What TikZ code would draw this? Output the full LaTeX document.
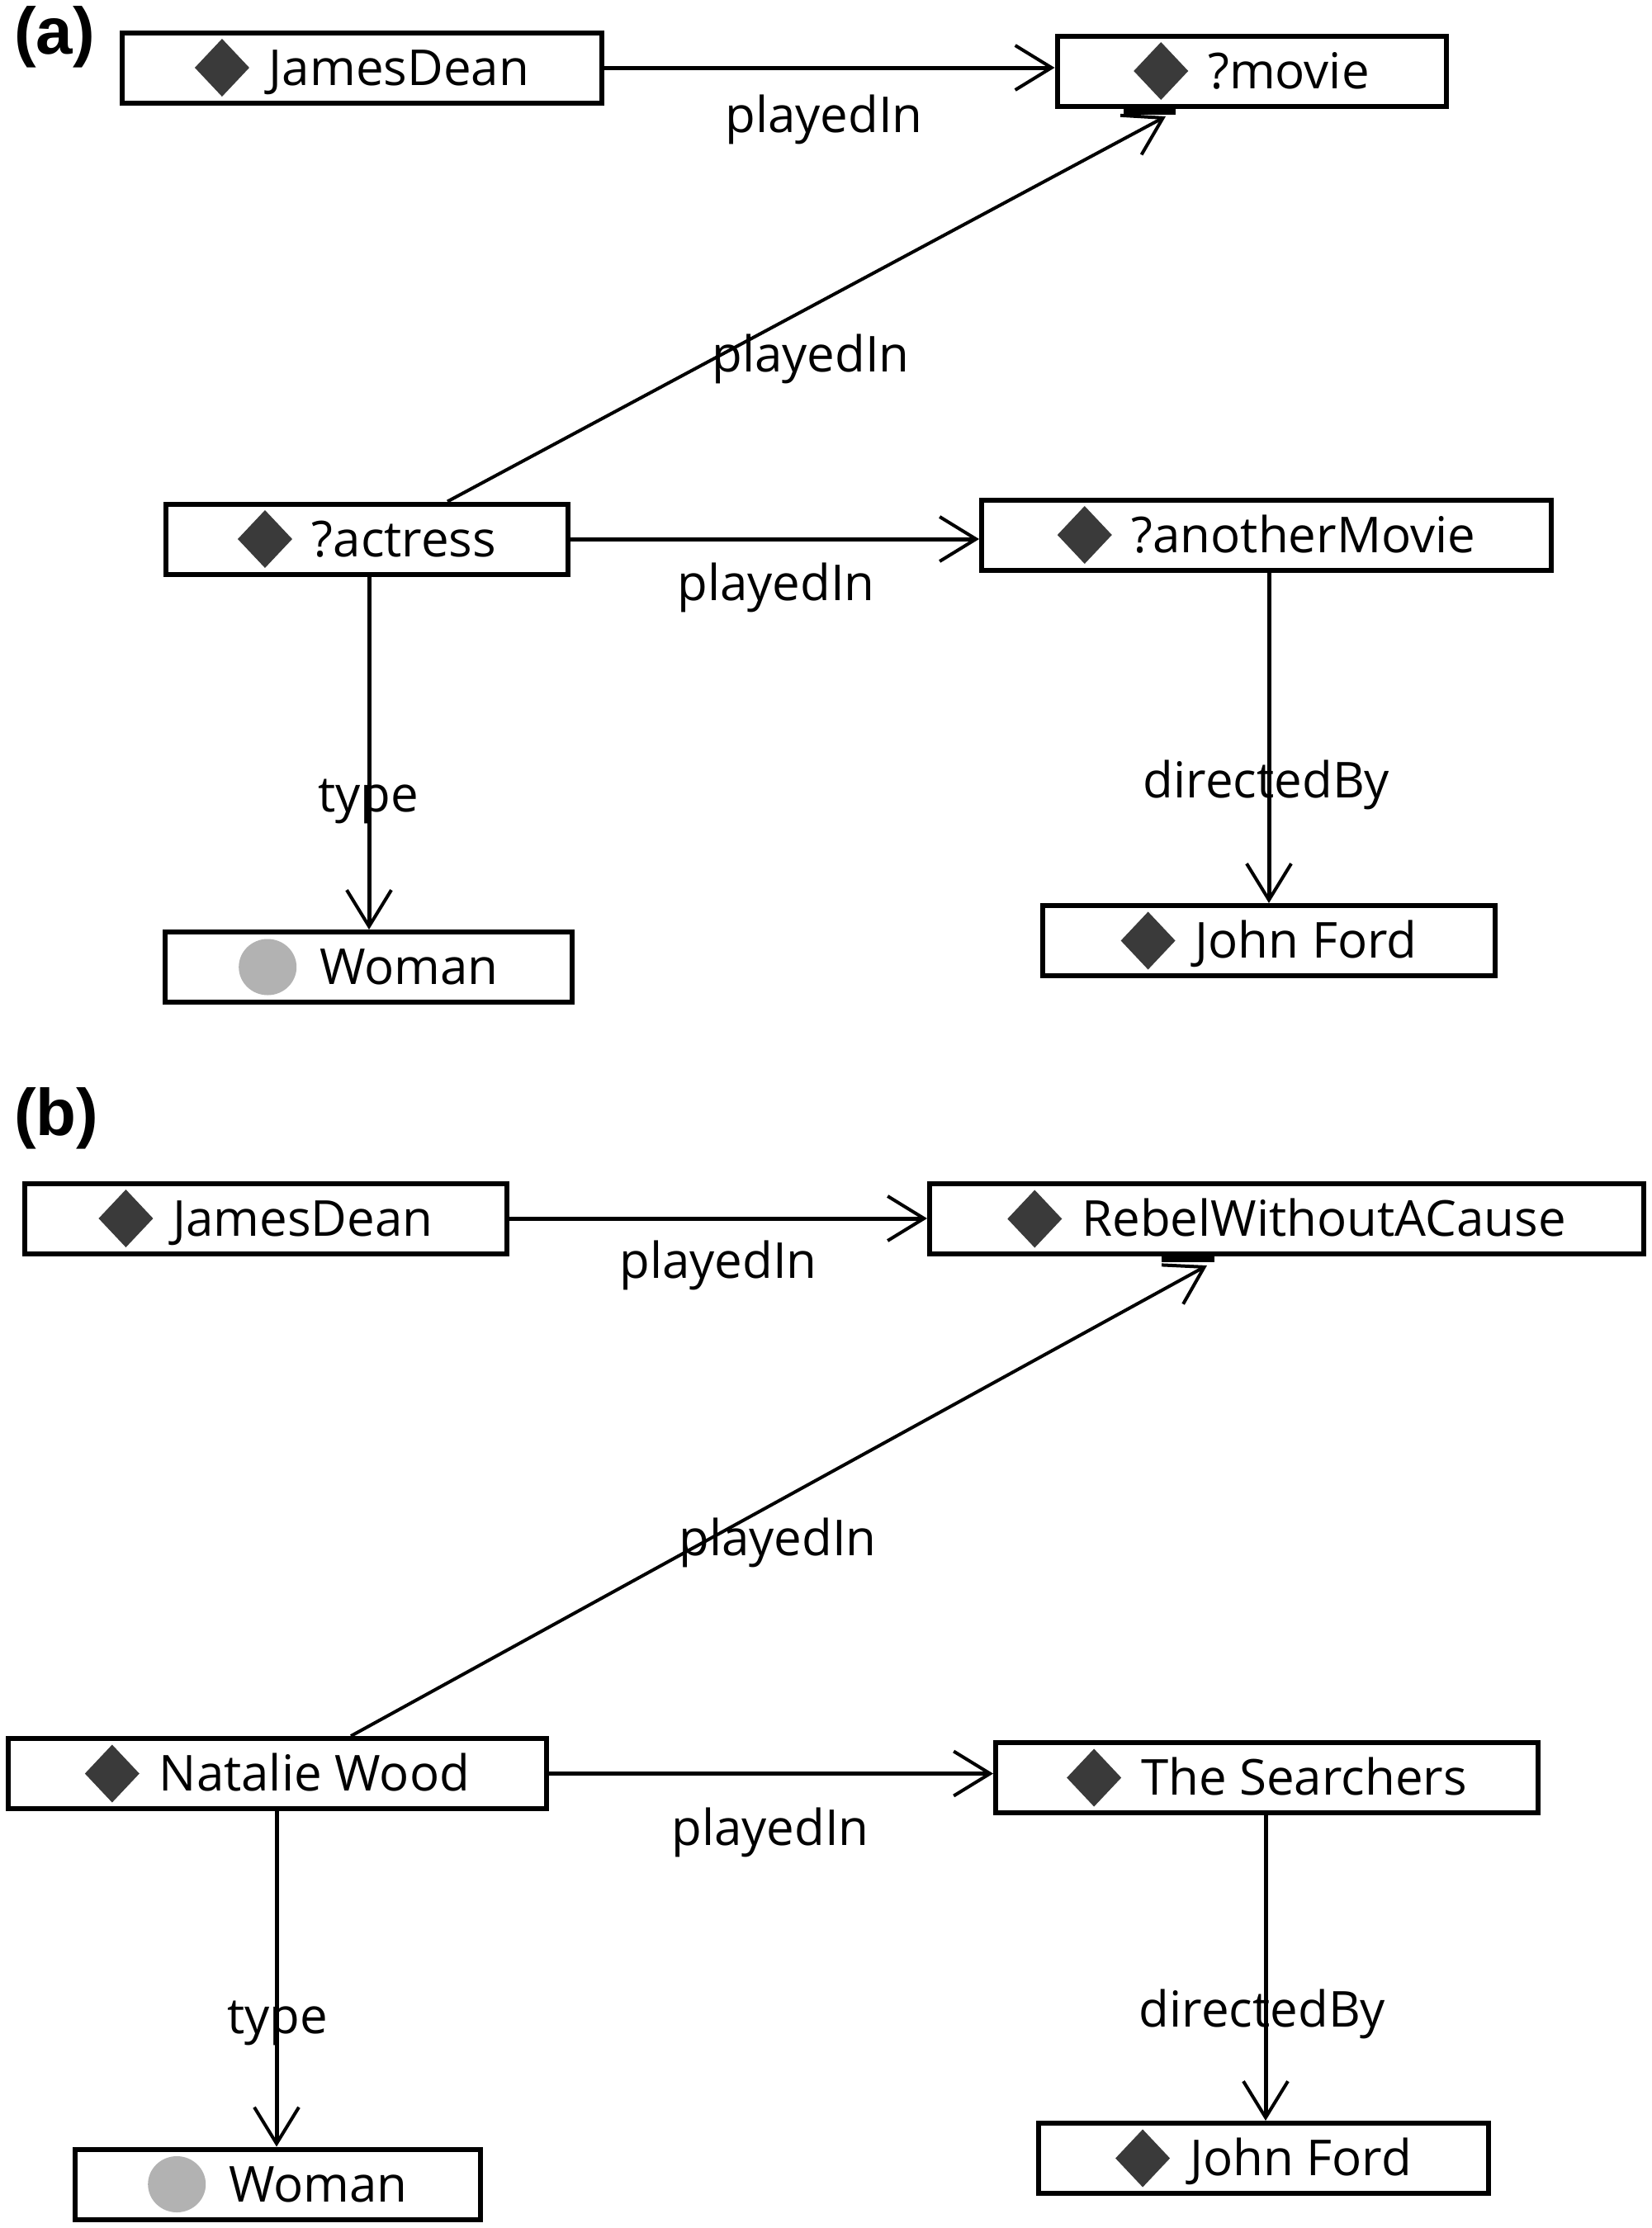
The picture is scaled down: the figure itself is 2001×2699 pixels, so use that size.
\documentclass[tikz,border=0pt]{standalone}
\usepackage{fontspec}
\setmainfont{Open Sans}
\newfontfamily\panelfont{Liberation Sans}
\usetikzlibrary{arrows.meta}
\definecolor{dmdgray}{HTML}{3A3A3A}
\definecolor{clsgray}{HTML}{B2B2B2}
\newcommand{\instIcon}{\tikz[baseline=-21pt]\fill[dmdgray] (-33pt,0pt)--(0pt,35pt)--(33pt,0pt)--(0pt,-35pt)--cycle;}
\newcommand{\clsIcon}{\tikz[baseline=-21pt]\fill[clsgray] (0pt,0pt) ellipse [x radius=35pt, y radius=34pt];}
\tikzset{
 ent/.style={draw, line width=6pt, minimum height=85pt, inner sep=0pt, font={\fontsize{60}{72}\selectfont}},
 elabel/.style={font={\fontsize{60}{72}\selectfont}, inner sep=0pt, anchor=base},
 rel/.style={line width=5pt, -{Straight Barb[length=44pt,width=54pt,line width=4pt]}},
 reldiag/.style={rel, line width=4pt},
 panel/.style={font={\panelfont\bfseries\fontsize{80}{96}\selectfont}, inner sep=0pt, anchor=base west},
}
\begin{document}
\begin{tikzpicture}[x=1pt,y=-1pt]
\fill[white] (0,0) rectangle (2001,2699);
\useasboundingbox (0,0) rectangle (2001,2699);

% ---------- panel (a) ----------
\node[panel] (pa) at (17,65) {(a)};
\node[ent, minimum width=581pt] (jdA) at (438.5,82) {\instIcon\hspace{24pt}JamesDean};
\node[ent, minimum width=471pt] (movie) at (1516,86) {\instIcon\hspace{24pt}?movie};
\node[ent, minimum width=487pt] (actress) at (444.5,653) {\instIcon\hspace{24pt}?actress};
\node[ent, minimum width=690pt] (anm) at (1534,648) {\instIcon\hspace{24pt}?anotherMovie};
\node[ent, minimum width=493pt] (womanA) at (446.5,1171.5) {\clsIcon\hspace{28pt}Woman};
\node[ent, minimum width=548pt] (jfA) at (1537,1139.5) {\instIcon\hspace{24pt}John Ford};

\draw[rel] (jdA.east) -- (jdA.east -| movie.west);
\coordinate (mvTip) at (1412,141);
\fill (1361,131) rectangle (1424,139);
\draw[reldiag] ([xshift=97.5pt]actress.north) -- (mvTip);
\draw[rel] (actress.east) -- (actress.east -| anm.west);
\draw[rel] ([xshift=2.5pt]actress.south) -- ([xshift=2.5pt]actress.south |- womanA.north);
\draw[rel] ([xshift=3pt]anm.south) -- ([xshift=3pt]anm.south |- jfA.north);

\node[elabel] (lA1) at (998,160) {playedIn};
\node[elabel] (lA2) at (982,450) {playedIn};
\node[elabel] (lA3) at (940,727) {playedIn};
\node[elabel] (lA4) at (446,983) {type};
\node[elabel] (lA5) at (1534,966) {directedBy};

% ---------- panel (b) ----------
\node[panel] (pb) at (17,1375) {(b)};
\node[ent, minimum width=584pt] (jdB) at (322,1476) {\instIcon\hspace{24pt}JamesDean};
\node[ent, minimum width=865pt] (rebel) at (1558.5,1476.5) {\instIcon\hspace{24pt}RebelWithoutACause};
\node[ent, minimum width=652pt] (natalie) at (336,2148.5) {\instIcon\hspace{24pt}Natalie Wood};
\node[ent, minimum width=657pt] (searchers) at (1534.5,2153.5) {\instIcon\hspace{24pt}The Searchers};
\node[ent, minimum width=491pt] (womanB) at (336.5,2646) {\clsIcon\hspace{28pt}Woman};
\node[ent, minimum width=545pt] (jfB) at (1530.5,2614.5) {\instIcon\hspace{24pt}John Ford};

\draw[rel] (jdB.east) -- (jdB.east -| rebel.west);
\coordinate (rbTip) at (1462,1533);
\fill (1407,1522) rectangle (1471,1529);
\draw[reldiag] ([xshift=89pt]natalie.north) -- (rbTip);
\draw[rel] (natalie.east) -- (natalie.east -| searchers.west);
\draw[rel] ([xshift=-1pt]natalie.south) -- ([xshift=-1pt]natalie.south |- womanB.north);
\draw[rel] ([xshift=-1.5pt]searchers.south) -- ([xshift=-1.5pt]searchers.south |- jfB.north);

\node[elabel] (lB1) at (870,1548) {playedIn};
\node[elabel] (lB2) at (942,1884) {playedIn};
\node[elabel] (lB3) at (933,2235) {playedIn};
\node[elabel] (lB4) at (336,2463) {type};
\node[elabel] (lB5) at (1529,2455) {directedBy};
\end{tikzpicture}
\end{document}
